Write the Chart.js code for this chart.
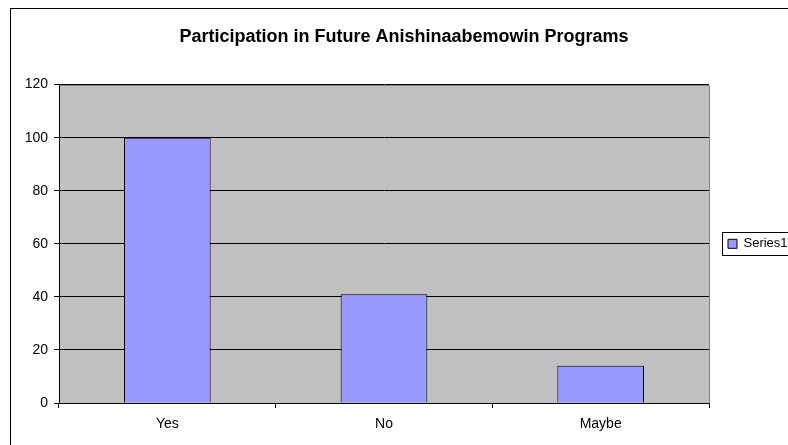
<!DOCTYPE html>
<html>
<head>
<meta charset="utf-8">
<script src="https://cdn.jsdelivr.net/npm/chart.js@4"></script>
<style>
  html, body { margin: 0; padding: 0; background: #fff; overflow: hidden; }
  #wrap { position: absolute; left: 0; top: 0; width: 808px; height: 455px; }
</style>
</head>
<body>
<div id="wrap"><canvas id="myChart"></canvas></div>
<script>
let categories = ['Yes', 'No', 'Maybe'];
let series1 = [100, 41, 14];
let seriesName = 'Series1';
let titleText = 'Participation in Future Anishinaabemowin Programs';

let fontFamily = '"Liberation Sans", Arial, sans-serif';

// gray plot area, outer chart frame and legend frame (Excel look)
let excelFrame = {
    id: 'excelFrame',
    beforeDraw(chart) {
        let ctx = chart.ctx;
        let a = chart.chartArea;
        ctx.save();
        ctx.fillStyle = '#fff';
        ctx.fillRect(0, 0, chart.width, chart.height);
        ctx.strokeStyle = '#000';
        ctx.lineWidth = 1;
        ctx.strokeRect(10.5, 8.5, 790, 460);
        ctx.fillStyle = '#C0C0C0';
        ctx.fillRect(a.left, a.top, a.right - a.left, a.bottom - a.top);
        ctx.restore();
    },
    beforeDatasetsDraw(chart) {
        let ctx = chart.ctx;
        let a = chart.chartArea;
        ctx.save();
        ctx.strokeStyle = '#808080';
        ctx.lineWidth = 1;
        ctx.beginPath();
        ctx.moveTo(Math.round(a.left) + 0.5, Math.round(a.top) + 0.5);
        ctx.lineTo(Math.round(a.right) + 0.5, Math.round(a.top) + 0.5);
        ctx.lineTo(Math.round(a.right) + 0.5, Math.round(a.bottom) + 0.5);
        ctx.stroke();
        ctx.restore();
    },
    afterDraw(chart) {
        let hb = chart.legend.legendHitBoxes[0];
        if (!hb) return;
        let ctx = chart.ctx;
        let cy = hb.top + hb.height / 2;
        ctx.save();
        ctx.strokeStyle = '#000';
        ctx.lineWidth = 1;
        ctx.strokeRect(Math.round(hb.left - 6) + 0.5, Math.round(cy - 12) + 0.5, 90, 23);
        ctx.restore();
    }
};

let ctx1 = document.getElementById('myChart').getContext('2d');

let chart1 = new Chart(ctx1, {
    type: 'bar',
    data: {
        labels: categories,
        datasets: [{
            label: seriesName,
            data: series1,
            backgroundColor: '#9999FF',
            borderColor: '#000',
            borderWidth: 1,
            barPercentage: 0.4,
            categoryPercentage: 1
        }]
    },
    options: {
        responsive: true,
        maintainAspectRatio: false,
        animation: false,
        layout: { padding: 0 },
        plugins: {
            title: {
                display: true,
                text: titleText,
                color: '#000',
                font: { family: fontFamily, size: 18, weight: 'bold' },
                padding: { top: 26, bottom: 37 }
            },
            legend: {
                position: 'right',
                fullSize: false,
                labels: {
                    color: '#000',
                    font: { family: fontFamily, size: 13 },
                    boxWidth: 9,
                    boxHeight: 9,
                    padding: 19
                }
            },
            tooltip: { enabled: false }
        },
        scales: {
            x: {
                grid: {
                    drawOnChartArea: false,
                    color: '#000',
                    tickLength: 5,
                    offset: true
                },
                border: { color: '#000' },
                ticks: {
                    color: '#000',
                    font: { family: fontFamily, size: 14 },
                    padding: 8,
                    maxRotation: 0
                },
                afterFit(s) { s.height = 52; }
            },
            y: {
                min: 0,
                max: 120,
                grid: {
                    color: '#000',
                    tickLength: 5
                },
                border: { color: '#000' },
                ticks: {
                    stepSize: 20,
                    color: '#000',
                    font: { family: fontFamily, size: 14 },
                    padding: 6
                },
                afterFit(s) { s.width = 59; }
            }
        }
    },
    plugins: [excelFrame]
});

// legend column is 99px wide so the plot ends where the reference's does
let legendFit = chart1.legend.fit;
chart1.legend.fit = function () {
    legendFit.call(this);
    this.width = 808 - 709;
};
chart1.update();
</script>
</body>
</html>
